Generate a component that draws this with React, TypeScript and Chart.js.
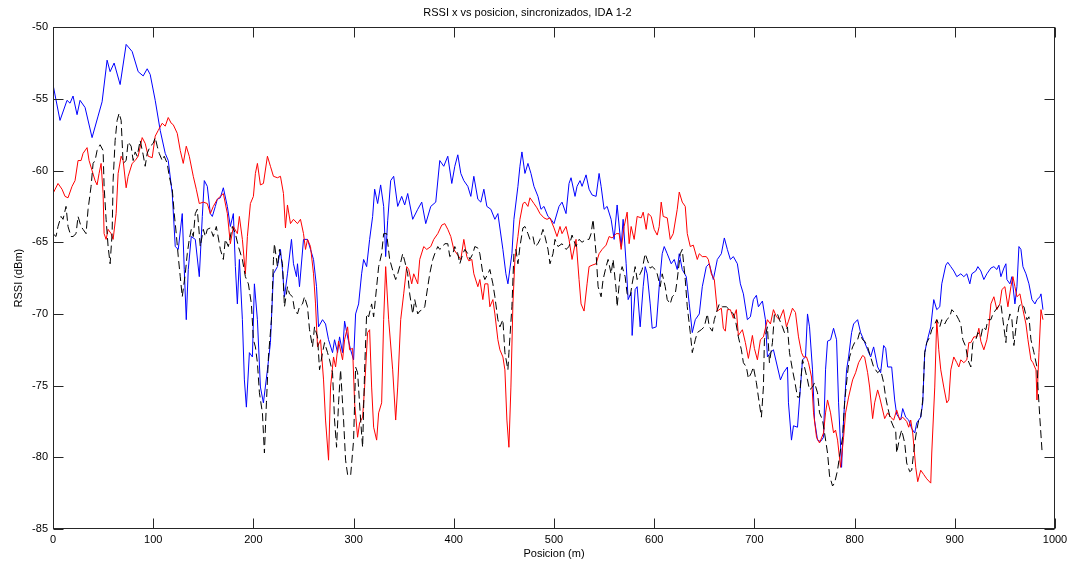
import React, { useEffect, useRef } from 'react';
import { Chart, registerables } from 'chart.js';

Chart.register(...registerables);

const chartTitle = 'RSSI x vs posicion, sincronizados, IDA 1-2';
const xAxisLabel = 'Posicion (m)';
const yAxisLabel = 'RSSI (dBm)';

const xRange = [0, 1000];
const xStep = 100;
const yRange = [-85, -50];
const yStep = 5;

// [posicion (m), RSSI (dBm)]
const blueSeries: [number, number][] = [
  [0,-54.0],[7,-56.5],[14,-55.1],[17,-55.3],[20,-54.8],[24,-56.1],[27,-55.1],[32,-55.6],[39,-57.7],[45,-56.2],[49,-55.2],[54,-52.3],[57,-53.1],[61,-52.5],[67,-54.0],[73,-51.2],[79,-51.7],[85,-53.1],[90,-53.4],[94,-52.9],[97,-53.3],[102,-55.1],[107,-57.2],[112,-58.8],[115,-59.3],[119,-61.6],[122,-65.3],[125,-65.5],[129,-63],[131,-66.9],[133,-70.4],[135,-66.9],[138,-64.6],[142,-64.8],[146,-67.4],[149,-63.2],[151,-60.7],[154,-61.1],[157,-63],[159,-63.2],[162,-62.5],[164,-62],[167,-61.9],[170,-61.2],[174,-62.5],[177,-63.9],[180,-63],[182,-66.7],[184,-69.3],[186,-66.2],[189,-70.4],[191,-74.6],[193,-76.5],[196,-72.7],[199,-73],[201,-67.9],[204,-70.4],[207,-75.1],[210,-76.2],[214,-73.9],[217,-72],[220,-67.2],[224,-66.7],[227,-65.5],[229,-66.9],[231,-68.8],[234,-67.2],[238,-64.8],[240,-66.5],[243,-67.4],[244,-66.5],[246,-68.1],[250,-64.8],[254,-64.8],[257,-65.5],[260,-66.2],[263,-68.1],[265,-70.9],[269,-70.4],[272,-70.7],[275,-71.8],[279,-72.7],[281,-71.8],[284,-72.7],[286,-71.6],[289,-72.7],[291,-70.5],[294,-71.6],[297,-72.5],[300,-73.2],[302,-70],[305,-69.3],[308,-67.2],[310,-66.2],[313,-66.7],[316,-64.8],[319,-63.2],[321,-61.3],[324,-62.3],[327,-61],[330,-62.5],[332,-66],[334,-63.5],[337,-60.7],[340,-60.4],[344,-62.5],[348,-61.8],[351,-62.4],[354,-61.6],[359,-63.4],[364,-62.7],[368,-62.2],[372,-63.7],[377,-62.5],[382,-62.2],[386,-59.3],[390,-59.7],[394,-59],[398,-60.9],[401,-59.7],[404,-58.9],[407,-60.2],[410,-60.7],[414,-61.1],[417,-61.8],[420,-60.4],[424,-62],[427,-62.2],[430,-61.3],[433,-62.5],[437,-62.7],[441,-63.4],[444,-63],[449,-65.5],[452,-67.2],[454,-67.9],[458,-65.8],[460,-63.4],[464,-61.1],[466,-59.7],[468,-58.7],[471,-60.2],[474,-59.5],[477,-60.2],[480,-61.1],[484,-61.8],[487,-62.7],[490,-62.5],[494,-63.2],[497,-63.4],[500,-63.7],[505,-62.5],[508,-62.2],[512,-63],[515,-60.9],[517,-60.5],[521,-61.8],[523,-61.1],[526,-60.7],[528,-61.1],[532,-60.3],[535,-61.3],[538,-61.7],[542,-61.8],[545,-60.2],[547,-61.1],[550,-62.7],[553,-62.5],[557,-63.4],[560,-64.8],[563,-62.4],[567,-65.3],[569,-63.4],[572,-66.5],[574,-69],[577,-68.5],[578,-71.5],[581,-68.3],[583,-68.1],[586,-70.9],[589,-68.1],[591,-66.7],[593,-67.2],[596,-69.3],[598,-71],[602,-70.9],[605,-68.1],[608,-65.8],[610,-65.3],[613,-65.8],[617,-66.5],[620,-66.2],[623,-66.9],[625,-65.8],[628,-66.9],[632,-67.4],[635,-69.3],[638,-71.3],[641,-70.4],[645,-70],[648,-68.1],[652,-66.7],[655,-66.5],[659,-67.6],[663,-66.2],[667,-65.8],[670,-64.7],[673,-65.5],[676,-66.2],[679,-66],[683,-66.5],[686,-67.9],[689,-68.6],[693,-70.4],[696,-70.2],[699,-69],[702,-68.7],[704,-69.5],[708,-69.1],[711,-70.4],[713,-73],[716,-72.7],[719,-72.5],[723,-73.7],[726,-74.6],[729,-74.1],[733,-73.7],[734,-76.2],[737,-78.8],[739,-77.8],[743,-77.9],[745,-76],[748,-73.2],[751,-73],[753,-70],[755,-70.9],[758,-73.9],[760,-77.4],[763,-78.8],[766,-78.9],[769,-78.6],[771,-73.9],[773,-71.9],[776,-71.8],[779,-71],[782,-71.8],[784,-76.2],[787,-80.7],[789,-77.4],[792,-73.9],[794,-73],[797,-71.3],[799,-70.7],[803,-70.4],[806,-71.3],[809,-71.8],[813,-72.5],[816,-73],[819,-72.3],[823,-73.7],[826,-74.1],[829,-72.2],[831,-72.4],[833,-73.7],[837,-73.7],[840,-76],[842,-77],[846,-77.4],[848,-76.6],[851,-77.2],[854,-77.4],[857,-78],[860,-78.3],[862,-77.6],[866,-77.2],[868,-76.2],[870,-72.7],[872,-72],[876,-70.9],[879,-69],[882,-69.7],[885,-69.5],[887,-67.9],[891,-66.6],[893,-66.4],[896,-66.7],[899,-67],[902,-67.4],[906,-67.2],[909,-67.4],[912,-67.2],[915,-67.9],[917,-67.2],[921,-67],[923,-66.7],[926,-67],[929,-67.6],[932,-67.2],[936,-66.8],[939,-66.7],[942,-66.9],[944,-66.6],[946,-67.4],[949,-66.8],[951,-66.5],[952,-67.6],[955,-67.9],[957,-67.4],[960,-69.3],[962,-68.1],[964,-65.3],[966,-65.5],[968,-66.7],[971,-67.2],[974,-67.9],[977,-69],[980,-69.3],[982,-69],[985,-68.8],[986,-68.6],[988,-69.7]
];

const redSeries: [number, number][] = [
  [0,-61.6],[5,-60.9],[9,-61.3],[12,-61.8],[15,-61.9],[19,-61.1],[22,-60.7],[25,-59.3],[28,-59.3],[30,-58.8],[34,-58.4],[36,-59.3],[39,-60],[42,-60.7],[44,-61],[46,-60.2],[48,-59.5],[50,-61.6],[51,-64.4],[53,-64.8],[55,-64.1],[58,-64.4],[60,-64.8],[63,-63],[65,-60.2],[68,-59],[70,-59.3],[73,-61.2],[75,-60.4],[79,-59.5],[82,-59.3],[85,-59],[89,-57.7],[92,-58.1],[95,-59],[99,-59.1],[102,-57.6],[105,-57.2],[109,-56.7],[112,-56.9],[115,-56.3],[118,-56.7],[120,-56.8],[124,-57.4],[127,-58.6],[130,-59.5],[133,-58.3],[136,-59],[140,-60.4],[143,-61.3],[146,-62.3],[150,-62.2],[154,-62.3],[157,-63],[160,-62.5],[164,-62],[167,-61.8],[170,-61.6],[174,-63],[177,-65.1],[180,-63.9],[184,-64.4],[186,-63.2],[189,-64.8],[192,-67.2],[194,-64.6],[197,-62.3],[200,-61.8],[202,-60.2],[204,-59.5],[207,-61],[210,-60.9],[214,-59],[217,-59.7],[220,-60.4],[224,-60.5],[227,-60.4],[230,-61.6],[232,-64],[234,-62.4],[237,-63.7],[240,-63.4],[244,-63.7],[247,-63.4],[250,-64.4],[252,-65.5],[254,-64.8],[257,-65.3],[260,-67.2],[262,-69.3],[264,-72.3],[267,-71.8],[270,-74.6],[272,-77.4],[275,-80.2],[277,-75.1],[280,-73],[282,-73.7],[285,-71.9],[289,-73.2],[291,-71.8],[294,-70.9],[296,-72.5],[299,-72.4],[301,-76.2],[304,-78.6],[306,-77.6],[309,-77.2],[311,-75.1],[314,-71.3],[316,-71.1],[318,-75.1],[320,-77.9],[323,-78.8],[325,-76.9],[328,-76.2],[330,-70.4],[332,-66.7],[335,-70.4],[339,-73.9],[342,-77.4],[344,-75.1],[347,-70.4],[350,-68.6],[353,-66.7],[355,-66.9],[358,-67.9],[360,-67.2],[364,-67.9],[366,-66.2],[370,-65.3],[373,-65.5],[377,-65.3],[380,-64.8],[384,-64.4],[388,-63.8],[391,-63.7],[394,-64.1],[397,-64.6],[400,-65.5],[404,-65.9],[407,-66.2],[410,-64.8],[413,-66],[415,-66.3],[418,-66.2],[420,-67.2],[424,-68.1],[426,-67.6],[429,-69],[431,-67.9],[434,-67.9],[436,-69.5],[439,-69],[441,-70],[444,-71.8],[446,-72.5],[449,-73],[451,-73.9],[453,-77.4],[455,-79.3],[457,-75.1],[459,-69.3],[461,-66.2],[464,-64.6],[466,-63.4],[469,-62.3],[471,-62.2],[474,-62.5],[476,-61.9],[480,-62.3],[483,-62.6],[486,-63],[490,-63.3],[493,-63.4],[496,-63.3],[500,-64],[503,-64.6],[506,-63.9],[508,-64.4],[512,-63.9],[515,-64.8],[518,-66.2],[522,-64.8],[525,-67.6],[527,-69.3],[530,-69.8],[533,-67.9],[535,-66.7],[538,-66.6],[542,-66.5],[545,-65.8],[548,-65.5],[552,-65.2],[555,-64.6],[558,-64.7],[562,-64.4],[565,-64.4],[567,-65.5],[570,-63.9],[573,-62.9],[575,-65.1],[577,-63.9],[580,-64.8],[583,-63.2],[587,-63.3],[589,-62.9],[592,-64.1],[594,-63],[597,-63.2],[600,-64.1],[603,-64.5],[605,-63.9],[607,-62.2],[609,-63.2],[613,-63.3],[616,-64.8],[619,-64.4],[623,-62.7],[625,-61.5],[628,-62.2],[631,-62.5],[633,-64.4],[636,-65.3],[639,-65.2],[643,-66.2],[645,-65.8],[648,-66],[652,-66],[654,-66.2],[657,-67.2],[660,-67.6],[663,-69.8],[667,-69.6],[669,-71],[671,-71.2],[673,-69.7],[676,-69.7],[679,-70.3],[682,-69.7],[684,-71.5],[688,-71.1],[691,-72],[694,-73.1],[698,-71.5],[700,-72.4],[703,-73.2],[706,-71.8],[709,-71.6],[713,-70.4],[716,-70.7],[719,-69.7],[722,-70.2],[725,-70.4],[729,-69.7],[732,-70.9],[734,-70.5],[738,-69.6],[741,-69.9],[744,-71.6],[747,-72.7],[749,-73],[752,-73],[754,-73.4],[757,-74.4],[759,-76.9],[762,-78.6],[765,-79],[769,-78.3],[771,-76.9],[773,-76],[776,-76.9],[779,-78.3],[781,-78.1],[783,-78.8],[786,-80.7],[789,-78.6],[791,-76.9],[794,-75.8],[798,-74.6],[801,-74.1],[804,-73.4],[808,-72.9],[810,-73],[813,-74.1],[815,-75.1],[818,-77.3],[820,-76.2],[823,-75.3],[825,-75.8],[828,-76.7],[830,-77.3],[833,-76.9],[836,-77.2],[839,-77.4],[842,-76.7],[845,-77.4],[848,-77.2],[852,-77.5],[854,-77.9],[856,-77.4],[858,-78.3],[861,-80.7],[863,-81.7],[866,-80.9],[869,-81.2],[872,-81.5],[876,-81.8],[877,-79.7],[880,-75.1],[882,-70.4],[884,-72.5],[886,-73.9],[889,-75.1],[892,-76.2],[894,-76],[896,-73.9],[899,-73],[902,-73.4],[904,-73.7],[906,-73.2],[909,-73.4],[912,-73.2],[914,-72],[916,-72],[919,-71.6],[922,-71.6],[924,-71],[926,-71.9],[929,-72.5],[932,-71.8],[934,-70.9],[936,-69.3],[939,-68.8],[942,-69.7],[945,-69.3],[947,-68.3],[950,-68.1],[953,-69.5],[956,-68.1],[958,-67.4],[960,-68.1],[962,-68.8],[965,-68.6],[968,-69.7],[971,-70.7],[973,-71.8],[976,-73.2],[978,-73.4],[981,-73.9],[982,-76],[984,-72.7],[986,-69.7],[988,-70.4]
];

const blackSeries: [number, number][] = [
  [0,-64.4],[3,-64.6],[5,-63.9],[8,-63.2],[10,-63.4],[13,-62.5],[15,-63.9],[18,-64.6],[20,-64.6],[23,-64.4],[25,-63.2],[28,-63.9],[30,-64.1],[33,-64.4],[35,-62.7],[38,-61.1],[40,-59.5],[42,-59.3],[44,-58.6],[47,-58.2],[50,-58.6],[51,-61.1],[53,-63.4],[55,-65.3],[57,-66.5],[59,-64.4],[60,-60.7],[62,-57.9],[64,-56.5],[66,-56],[68,-56.5],[70,-59.5],[73,-59.3],[75,-58],[78,-58.3],[80,-59.3],[82,-58.7],[84,-59],[87,-57.9],[90,-58.9],[92,-59.7],[94,-58.8],[97,-58.3],[100,-58.1],[102,-57.7],[104,-58.3],[106,-58.8],[109,-59.3],[111,-59],[114,-59.5],[116,-60.4],[119,-61.3],[121,-63],[123,-64.4],[125,-66],[127,-67.4],[129,-68.8],[132,-67.2],[134,-65.8],[136,-64.8],[138,-64.1],[140,-64.6],[142,-63],[144,-62.7],[147,-65.3],[150,-64.1],[152,-64.6],[154,-64.1],[157,-64],[160,-64.6],[163,-63.9],[167,-65.5],[170,-66.2],[172,-64.8],[175,-65.3],[179,-63.9],[182,-64.4],[185,-65.3],[189,-66.2],[192,-67.4],[195,-67.9],[198,-69.3],[200,-71.8],[202,-72.3],[204,-73.4],[206,-75.5],[209,-76.9],[210,-78.3],[211,-79.7],[213,-76.2],[215,-73],[218,-70.4],[220,-66.2],[221,-65.1],[224,-66.7],[226,-65.5],[229,-66.5],[231,-69.5],[234,-68.1],[236,-68.6],[239,-68.8],[241,-69.7],[244,-70],[246,-69.5],[249,-69.3],[251,-68.8],[254,-69.5],[256,-71.1],[259,-72.3],[261,-70.9],[264,-71.6],[266,-73.9],[269,-72.7],[271,-72],[274,-72.7],[276,-73.2],[279,-74.1],[281,-77.4],[283,-79.3],[285,-76.2],[287,-73.9],[290,-77.4],[292,-80.2],[294,-81.2],[297,-81.3],[300,-78.8],[302,-73.7],[304,-74.1],[307,-77.4],[309,-79.3],[311,-73.9],[313,-70],[315,-70.2],[318,-69.3],[320,-70.2],[323,-68.1],[325,-66.7],[328,-65.8],[330,-64.4],[333,-64.4],[336,-66.2],[340,-67.2],[342,-67.6],[344,-67.2],[346,-66.7],[349,-65.8],[351,-66.3],[354,-67.2],[356,-68.6],[359,-70],[361,-69],[364,-70],[366,-69.8],[369,-69.7],[371,-69.5],[374,-68.1],[376,-67.2],[379,-66.2],[381,-65.8],[384,-65.3],[386,-65.5],[389,-65.3],[391,-65.1],[394,-65.1],[396,-66],[399,-65.8],[401,-65.3],[404,-65.8],[406,-66.5],[409,-65.8],[411,-65.5],[414,-65.8],[416,-66.2],[419,-65.8],[421,-65.3],[424,-65.4],[426,-65.8],[429,-67.2],[431,-67.6],[434,-67.2],[436,-66.9],[439,-67.9],[441,-68.8],[444,-70.4],[446,-70.9],[449,-70.4],[451,-72.7],[454,-73.9],[455,-72.7],[458,-69.5],[460,-65.8],[462,-65.5],[464,-66.5],[466,-65.3],[469,-64],[471,-63.9],[474,-64.4],[476,-64.8],[479,-64.6],[481,-65.3],[484,-65.1],[486,-64.8],[489,-64.1],[491,-64.6],[494,-65.5],[496,-66.5],[499,-65.8],[501,-64.8],[504,-65.3],[508,-65.1],[512,-65.5],[515,-65.3],[518,-64.5],[522,-65.3],[525,-64.8],[528,-65],[532,-64.8],[535,-64.8],[537,-64.4],[539,-63.4],[542,-65.8],[544,-68.1],[547,-68.8],[549,-67.6],[552,-66.7],[554,-66.2],[557,-67.2],[559,-66.2],[562,-68.3],[563,-69.5],[566,-67.2],[568,-66.7],[571,-67.4],[573,-68.6],[576,-68.8],[578,-67.9],[581,-66.7],[583,-67.6],[586,-67.2],[588,-66.9],[591,-65.8],[593,-66.2],[596,-66.8],[598,-66.7],[601,-66.9],[603,-67.2],[606,-68.1],[608,-67.2],[611,-68.1],[613,-69],[616,-69.3],[618,-68.8],[621,-68.6],[623,-67.6],[626,-65.8],[628,-65.5],[631,-67.6],[633,-69.5],[636,-71.3],[638,-72.7],[641,-71.8],[643,-71.3],[647,-71.1],[650,-70.9],[653,-70],[655,-70.9],[658,-71.2],[660,-70.4],[663,-69.7],[665,-69.3],[668,-69.5],[672,-69.5],[675,-69.7],[679,-70],[681,-70.4],[684,-71.6],[687,-72.5],[689,-73.4],[692,-73.7],[694,-74.5],[697,-74.1],[699,-73.7],[702,-74.8],[704,-75.8],[707,-77.2],[709,-75.1],[710,-71.8],[713,-70.9],[715,-73.4],[718,-72],[720,-70],[723,-70],[725,-70.4],[728,-70.9],[730,-71.3],[733,-70.9],[735,-72.7],[738,-73.9],[740,-74.6],[743,-75.8],[745,-75.8],[748,-73.2],[750,-73.7],[753,-74.6],[755,-75.3],[758,-75.1],[760,-74.8],[763,-75.5],[765,-76.9],[768,-77.4],[770,-78.3],[773,-79.7],[775,-81.3],[778,-82],[780,-81.8],[783,-80.9],[785,-79.9],[788,-78.6],[790,-76.2],[793,-74.1],[795,-73],[798,-72.3],[800,-72],[803,-71.8],[805,-71.3],[808,-71.8],[810,-71.9],[813,-72.3],[816,-73],[819,-73.7],[821,-73.9],[823,-74.1],[826,-73.9],[829,-74.8],[831,-75.8],[833,-76.5],[836,-77.4],[839,-77.9],[841,-78.1],[842,-79.7],[845,-78.6],[847,-78.1],[850,-79],[852,-80.4],[855,-81],[857,-80.9],[860,-79],[862,-78.1],[864,-77.4],[866,-77.2],[868,-76],[870,-72.7],[872,-72],[875,-71.6],[877,-71.1],[880,-70.7],[882,-70.4],[885,-70.9],[887,-70.4],[890,-70.7],[892,-70.4],[895,-70.2],[897,-69.7],[901,-70],[904,-70.4],[906,-70.7],[908,-71.8],[911,-72.3],[913,-73.2],[916,-73.7],[918,-72],[921,-71.8],[923,-71.3],[926,-71.6],[928,-70.9],[931,-71.1],[933,-70.4],[936,-70.4],[938,-70],[941,-69.7],[943,-69.5],[946,-69.3],[948,-70.4],[951,-72],[952,-70.9],[955,-70],[957,-70.4],[959,-72.2],[962,-70.4],[964,-69.5],[966,-69.3],[969,-69.5],[972,-70.4],[974,-70.2],[976,-71.8],[979,-72.7],[982,-73.7],[983,-75.1],[985,-77.4],[987,-79.5],[988,-79.7]
];

const FONT = '"Liberation Sans", Arial, sans-serif';
const toPoints = (s: [number, number][]) => s.map(([x, y]) => ({ x, y }));

const boxPlugin = {
  id: 'matlabBox',
  afterDraw(chart: any) {
    const { ctx, chartArea: a, scales } = chart;
    const tl = 10;
    ctx.save();
    ctx.strokeStyle = '#262626';
    ctx.lineWidth = 1;
    const L = Math.round(a.left) + 0.5;
    const R = Math.round(a.right) - 0.5;
    const T = Math.round(a.top) + 0.5;
    const B = Math.round(a.bottom) - 0.5;
    ctx.strokeRect(L, T, R - L, B - T);
    ctx.beginPath();
    scales.x.ticks.forEach((t: any) => {
      const px = Math.round(scales.x.getPixelForValue(t.value)) + 0.5;
      ctx.moveTo(px, B); ctx.lineTo(px, B - tl);
      ctx.moveTo(px, T); ctx.lineTo(px, T + tl);
    });
    scales.y.ticks.forEach((t: any) => {
      const py = Math.round(scales.y.getPixelForValue(t.value)) + 0.5;
      ctx.moveTo(L, py); ctx.lineTo(L + tl, py);
      ctx.moveTo(R, py); ctx.lineTo(R - tl, py);
    });
    ctx.stroke();
    ctx.restore();
  },
};

export default function App() {
  const ref = useRef<HTMLCanvasElement | null>(null);
  useEffect(() => {
    document.body.style.margin = '0';
    document.body.style.background = '#ffffff';
    const canvas = ref.current!;
    const chart = new Chart(canvas, {
      type: 'line',
      data: {
        datasets: [
          { label: 'negro', data: toPoints(blackSeries), borderColor: '#000000', borderWidth: 1, borderDash: [8, 4], pointRadius: 0, tension: 0, order: 0 },
          { label: 'rojo', data: toPoints(redSeries), borderColor: '#ff0000', borderWidth: 1, pointRadius: 0, tension: 0, order: 1 },
          { label: 'azul', data: toPoints(blueSeries), borderColor: '#0000ff', borderWidth: 1, pointRadius: 0, tension: 0, order: 2 },
        ],
      },
      options: {
        animation: false,
        responsive: false,
        devicePixelRatio: 1,
        layout: { padding: { top: 0, left: 0, right: 17, bottom: 0 } },
        plugins: {
          legend: { display: false },
          tooltip: { enabled: false },
          title: {
            display: true,
            text: chartTitle,
            color: '#000',
            font: { family: FONT, size: 11, weight: 'normal' },
            padding: { top: 6, bottom: 8 },
          },
        },
        scales: {
          x: {
            type: 'linear',
            min: xRange[0],
            max: xRange[1],
            grid: { display: false, drawTicks: false },
            border: { display: false },
            ticks: { stepSize: xStep, color: '#000', padding: 4, font: { family: FONT, size: 11 }, maxRotation: 0, callback: (v: any) => String(v) },
            title: { display: true, text: xAxisLabel, color: '#000', font: { family: FONT, size: 11 }, padding: { top: 9, bottom: 9 } },
            afterFit: (s: any) => { s.height = 41; },
          },
          y: {
            type: 'linear',
            min: yRange[0],
            max: yRange[1],
            grid: { display: false, drawTicks: false },
            border: { display: false },
            ticks: { stepSize: yStep, color: '#000', padding: 5, font: { family: FONT, size: 11 }, callback: (v: any) => String(v) },
            title: { display: true, text: yAxisLabel, color: '#000', font: { family: FONT, size: 11 }, padding: { top: 12, bottom: 12 } },
            afterFit: (s: any) => { s.width = 53; },
          },
        },
      },
      plugins: [boxPlugin],
    });
    return () => chart.destroy();
  }, []);
  return <canvas ref={ref} width={1072} height={570} style={{ display: 'block', width: 1072, height: 570 }} />;
}
